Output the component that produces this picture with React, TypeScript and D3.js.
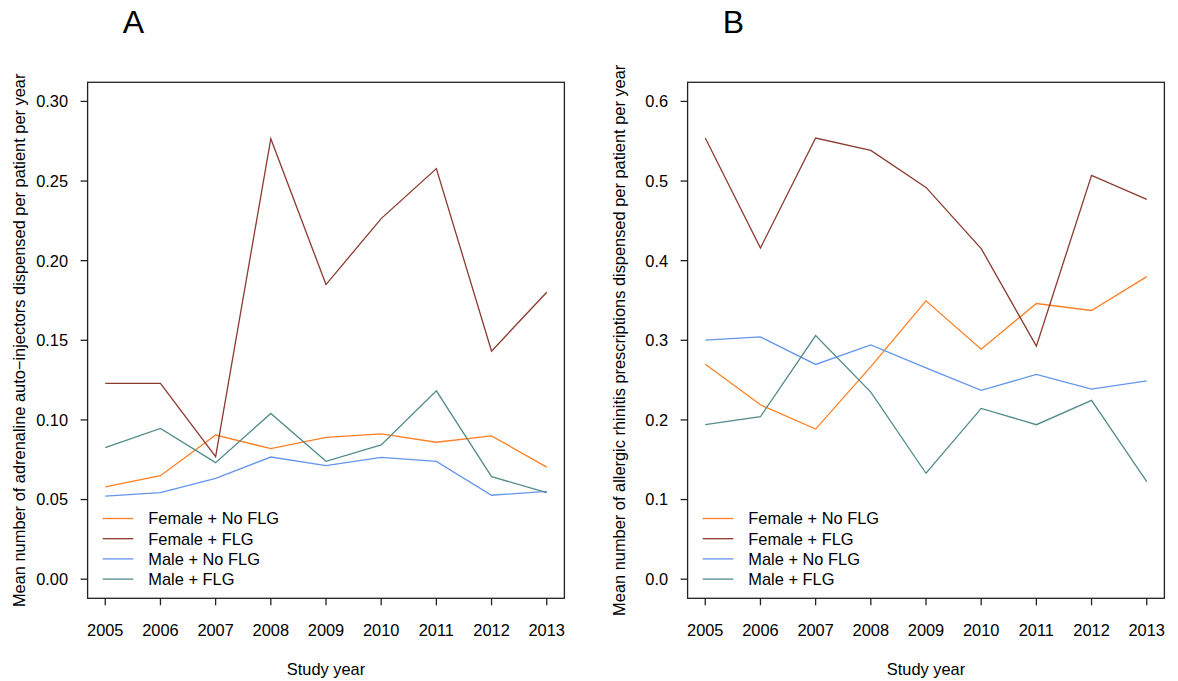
import React from "react";
import * as d3 from "d3";

// Study years (x axis categories)
const years = [2005, 2006, 2007, 2008, 2009, 2010, 2011, 2012, 2013];

// Panel A: mean adrenaline auto-injectors dispensed per patient per year
const adrenalineFemaleNoFLG = [0.058, 0.065, 0.0905, 0.082, 0.089, 0.0913, 0.086, 0.09, 0.0704];
const adrenalineFemaleFLG = [0.123, 0.123, 0.077, 0.2766, 0.185, 0.2264, 0.2578, 0.1432, 0.1802];
const adrenalineMaleNoFLG = [0.0522, 0.0543, 0.0633, 0.0767, 0.0713, 0.0765, 0.074, 0.0527, 0.0552];
const adrenalineMaleFLG = [0.0826, 0.0947, 0.0732, 0.1041, 0.074, 0.0843, 0.1183, 0.0644, 0.0543];

// Panel B: mean allergic rhinitis prescriptions dispensed per patient per year
const rhinitisFemaleNoFLG = [0.27, 0.219, 0.1885, 0.267, 0.3495, 0.2889, 0.3462, 0.3374, 0.38];
const rhinitisFemaleFLG = [0.554, 0.416, 0.554, 0.5385, 0.492, 0.4152, 0.2927, 0.5072, 0.477];
const rhinitisMaleNoFLG = [0.3002, 0.3043, 0.2697, 0.2943, 0.2654, 0.2371, 0.2571, 0.2387, 0.2491];
const rhinitisMaleFLG = [0.194, 0.204, 0.306, 0.235, 0.133, 0.2145, 0.194, 0.2245, 0.1224];

const seriesNames = ["Female + No FLG", "Female + FLG", "Male + No FLG", "Male + FLG"];
const seriesColors = ["#FF7F24", "#8B3A2E", "#6495ED", "#528B8B"];

const ticksA = [0.0, 0.05, 0.1, 0.15, 0.2, 0.25, 0.3];
const ticksB = [0.0, 0.1, 0.2, 0.3, 0.4, 0.5, 0.6];

const FONT = "'Liberation Sans', Arial, Helvetica, sans-serif";
const FS = 16.4;

type PanelProps = {
  letter: string;
  offsetX: number;
  yMax: number;
  yTicks: number[];
  tickFormat: (v: number) => string;
  series: number[][];
  yTitle: string;
};

// Panel geometry (each panel occupies a 600px-wide column)
const LEFT = 87.6;
const RIGHT = 564.4;
const TOP = 82.3;
const BOTTOM = 598.3;

function Panel(p: PanelProps) {
  const left = LEFT + p.offsetX;
  const right = RIGHT + p.offsetX;
  // R-style 4% padding around the data range
  const xPad = (years[years.length - 1] - years[0]) * 0.04;
  const x = d3
    .scaleLinear()
    .domain([years[0] - xPad, years[years.length - 1] + xPad])
    .range([left, right]);
  const yPad = p.yMax * 0.04;
  const y = d3.scaleLinear().domain([-yPad, p.yMax + yPad]).range([BOTTOM, TOP]);

  const line = d3
    .line<number>()
    .x((_, i) => x(years[i]))
    .y((v) => y(v));

  const legendY0 = 518.5;
  const legendStep = 20.2;
  const legendX1 = left + 15.1;
  const legendX2 = left + 45.7;
  const legendTextX = left + 60.7;
  const cx = (left + right) / 2;
  const cy = (TOP + BOTTOM) / 2;

  return (
    <g fontFamily={FONT} fill="#000">
      <text x={133.3 + p.offsetX} y={33.3} fontSize={32} textAnchor="middle">
        {p.letter}
      </text>
      {/* plot frame */}
      <rect
        x={left}
        y={TOP}
        width={right - left}
        height={BOTTOM - TOP}
        fill="none"
        stroke="#222"
        strokeWidth={1.3}
      />
      {/* y axis */}
      {p.yTicks.map((t) => (
        <g key={"y" + t}>
          <line x1={left - 7} x2={left} y1={y(t)} y2={y(t)} stroke="#222" strokeWidth={1.3} />
          <text x={left - 19.5} y={y(t) + 5.9} fontSize={FS} textAnchor="end">
            {p.tickFormat(t)}
          </text>
        </g>
      ))}
      {/* x axis */}
      {years.map((yr) => (
        <g key={"x" + yr}>
          <line x1={x(yr)} x2={x(yr)} y1={BOTTOM} y2={BOTTOM + 7} stroke="#222" strokeWidth={1.3} />
          <text x={x(yr)} y={635.7} fontSize={FS} textAnchor="middle">
            {yr}
          </text>
        </g>
      ))}
      <text x={cx} y={675} fontSize={FS} textAnchor="middle">
        Study year
      </text>
      <text
        transform={`translate(${25 + p.offsetX},${cy}) rotate(-90)`}
        fontSize={FS}
        textAnchor="middle"
      >
        {p.yTitle}
      </text>
      {/* series lines */}
      {p.series.map((s, i) => (
        <path key={"s" + i} d={line(s) || ""} fill="none" stroke={seriesColors[i]} strokeWidth={1.3} />
      ))}
      {/* legend */}
      {seriesNames.map((name, i) => (
        <g key={"l" + i}>
          <line
            x1={legendX1}
            x2={legendX2}
            y1={legendY0 + i * legendStep}
            y2={legendY0 + i * legendStep}
            stroke={seriesColors[i]}
            strokeWidth={1.3}
          />
          <text x={legendTextX} y={legendY0 + i * legendStep + 5.9} fontSize={FS}>
            {name}
          </text>
        </g>
      ))}
    </g>
  );
}

export default function App() {
  return (
    <svg
      width={1178}
      height={681}
      style={{ position: "absolute", left: 0, top: 0, background: "#fff" }}
    >
      <rect width={1178} height={681} fill="#fff" />
      <Panel
        letter="A"
        offsetX={0}
        yMax={0.3}
        yTicks={ticksA}
        tickFormat={d3.format(".2f")}
        series={[adrenalineFemaleNoFLG, adrenalineFemaleFLG, adrenalineMaleNoFLG, adrenalineMaleFLG]}
        yTitle="Mean number of adrenaline auto−injectors dispensed per patient per year"
      />
      <Panel
        letter="B"
        offsetX={600}
        yMax={0.6}
        yTicks={ticksB}
        tickFormat={d3.format(".1f")}
        series={[rhinitisFemaleNoFLG, rhinitisFemaleFLG, rhinitisMaleNoFLG, rhinitisMaleFLG]}
        yTitle="Mean number of allergic rhinitis prescriptions dispensed per patient per year"
      />
    </svg>
  );
}
